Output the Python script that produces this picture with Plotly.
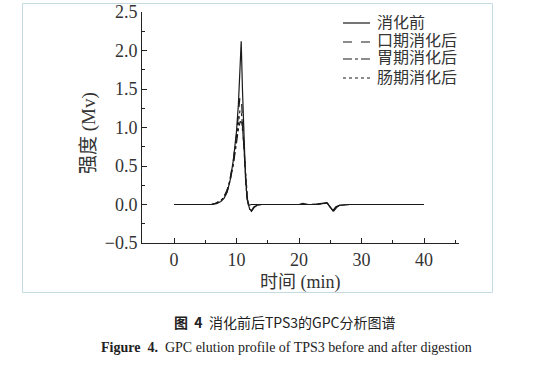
import plotly.graph_objects as go

# ---- data ----
t_before = [0, 2, 4, 6, 6.8, 7.5, 8, 8.5, 9, 9.5, 10, 10.3, 10.55, 10.75, 10.95, 11.2, 11.45, 11.7, 12.0, 12.4, 13, 14, 16, 18, 20, 20.6, 21.5, 23, 24.5, 25.0, 25.4, 25.9, 26.5, 28, 30, 35, 40]
y_before = [0, 0, 0, 0, 0.01, 0.04, 0.08, 0.16, 0.32, 0.58, 0.95, 1.3, 1.75, 2.12, 1.5, 0.8, 0.33, 0.07, -0.01, 0.0, 0.0, 0.0, 0.0, 0.0, 0.0, 0.015, 0.0, 0.0, 0.02, -0.03, -0.08, -0.03, -0.01, 0.0, 0.0, 0.0, 0.0]

t_oral = [0, 2, 4, 6, 6.8, 7.5, 8, 8.5, 9, 9.5, 10, 10.3, 10.55, 10.8, 11.05, 11.3, 11.55, 11.8, 12.1, 12.4, 12.8, 13.3, 14, 16, 18, 20, 22, 24.5, 25.0, 25.5, 26.0, 26.5, 28, 30, 35, 40]
y_oral = [0, 0, 0, 0, 0.02, 0.05, 0.1, 0.19, 0.35, 0.58, 0.9, 1.18, 1.4, 1.35, 1.0, 0.55, 0.2, 0.02, -0.07, -0.09, -0.04, -0.01, 0.0, 0.0, 0.0, 0.0, 0.0, 0.02, -0.04, -0.09, -0.04, -0.01, 0.0, 0.0, 0.0, 0.0]

t_gastric = [0, 2, 4, 6, 6.8, 7.5, 8, 8.5, 9, 9.5, 10, 10.3, 10.6, 10.85, 11.1, 11.35, 11.6, 11.85, 12.1, 12.4, 12.8, 13.3, 14, 16, 18, 20, 22, 24.5, 25.0, 25.5, 26.0, 26.5, 28, 30, 35, 40]
y_gastric = [0, 0, 0, 0, 0.02, 0.05, 0.09, 0.17, 0.32, 0.52, 0.8, 0.98, 1.08, 1.06, 0.85, 0.5, 0.18, 0.02, -0.06, -0.08, -0.03, -0.01, 0.0, 0.0, 0.0, 0.0, 0.0, 0.02, -0.04, -0.08, -0.03, -0.01, 0.0, 0.0, 0.0, 0.0]

t_intest = [0, 2, 4, 6, 6.8, 7.5, 8, 8.5, 9, 9.5, 10, 10.3, 10.55, 10.8, 11.05, 11.3, 11.55, 11.8, 12.1, 12.4, 12.8, 13.3, 14, 16, 18, 20, 22, 24.5, 25.0, 25.5, 26.0, 26.5, 28, 30, 35, 40]
y_intest = [0, 0, 0, 0, 0.02, 0.05, 0.1, 0.18, 0.33, 0.55, 0.85, 1.08, 1.22, 1.2, 0.9, 0.5, 0.18, 0.02, -0.06, -0.08, -0.03, -0.01, 0.0, 0.0, 0.0, 0.0, 0.0, 0.02, -0.04, -0.08, -0.03, -0.01, 0.0, 0.0, 0.0, 0.0]

series_names = ["消化前", "口期消化后", "胃期消化后", "肠期消化后"]
x_ticks = [0, 10, 20, 30, 40]
y_ticks = [-0.5, 0.0, 0.5, 1.0, 1.5, 2.0, 2.5]
y_tick_text = ["−0.5", "0.0", "0.5", "1.0", "1.5", "2.0", "2.5"]

SERIF = "Liberation Serif, Noto Sans CJK SC, serif"
W, H = 560, 370


def px(x):
    return x / W


def py(y):
    return 1 - y / H


fig = go.Figure()
dashes = ["solid", "dash", "dashdot", "dot"]
data = [(t_before, y_before), (t_oral, y_oral), (t_gastric, y_gastric), (t_intest, y_intest)]
for (t, y), name, d in zip(data, series_names, dashes):
    fig.add_trace(go.Scatter(x=t, y=y, mode="lines", name=name, showlegend=False,
                             line=dict(color="#1a1a1a", width=1.2, dash=d)))

x0, x1 = 142, 459
ytop, ybot = 12, 243
axis_common = dict(showline=True, linecolor="#222", linewidth=1, showgrid=False, zeroline=False,
                   ticks="inside", ticklen=5, tickcolor="#222", tickwidth=1,
                   ticklabeloverflow="allow",
                   tickfont=dict(family=SERIF, size=18, color="#333"))
fig.update_layout(
    width=W, height=H, margin=dict(l=0, r=0, t=0, b=0, autoexpand=False),
    paper_bgcolor="white", plot_bgcolor="white",
    xaxis=dict(domain=[px(x0), px(x1)], range=[-5.12, 45.6], tickvals=x_ticks,
               minor=dict(dtick=5, tick0=0, ticks="inside", ticklen=3, tickcolor="#222"),
               **axis_common),
    yaxis=dict(domain=[py(ybot), py(ytop)], range=[-0.5, 2.5],
               tickvals=y_ticks, ticktext=y_tick_text,
               minor=dict(dtick=0.25, tick0=0, ticks="inside", ticklen=3, tickcolor="#222"),
               **axis_common),
    showlegend=False,
)

# manual legend (line samples + labels)
legend_rows = [22, 41, 58, 77]
for name, d, yy in zip(series_names, dashes, legend_rows):
    fig.add_shape(type="line", xref="paper", yref="paper", x0=px(343), x1=px(370),
                  y0=py(yy + 1), y1=py(yy + 1), line=dict(color="#1a1a1a", width=1.2, dash=d))
    fig.add_annotation(text=name, xref="paper", yref="paper", x=px(376), y=py(yy),
                       xanchor="left", yanchor="middle", showarrow=False,
                       height=15, borderpad=0, valign="middle",
                       font=dict(family=SERIF, size=16, color="#333"))

# outer light frame
fig.add_shape(type="rect", xref="paper", yref="paper",
              x0=px(22.5), x1=px(492.5), y0=py(292.5), y1=py(3.5),
              line=dict(color="#c4dae2", width=1), fillcolor="rgba(0,0,0,0)", layer="above")

fig.add_annotation(text="时间 (min)", xref="paper", yref="paper", x=px(300),
                   y=py(282), showarrow=False, yanchor="middle",
                   font=dict(family=SERIF, size=18, color="#333"))
fig.add_annotation(text="强度 (Mv)", xref="paper", yref="paper", x=px(89), y=py(133),
                   showarrow=False, textangle=-90, xanchor="center", yanchor="middle",
                   font=dict(family=SERIF, size=19, color="#333"))
fig.add_annotation(text="<b>图  4</b>  消化前后TPS3的GPC分析图谱", xref="paper", yref="paper",
                   x=px(285), y=py(322), showarrow=False, yanchor="middle",
                   font=dict(family="Noto Sans CJK SC, sans-serif", size=14, color="#222"))
fig.add_annotation(text="<b>Figure  4.</b>  GPC elution profile of TPS3 before and after digestion",
                   xref="paper", yref="paper", x=px(286), y=py(347), showarrow=False,
                   yanchor="middle",
                   font=dict(family=SERIF, size=14, color="#222"))

fig.write_html("out.html", config={"displayModeBar": False},
               post_script="document.body.style.margin='0';")
